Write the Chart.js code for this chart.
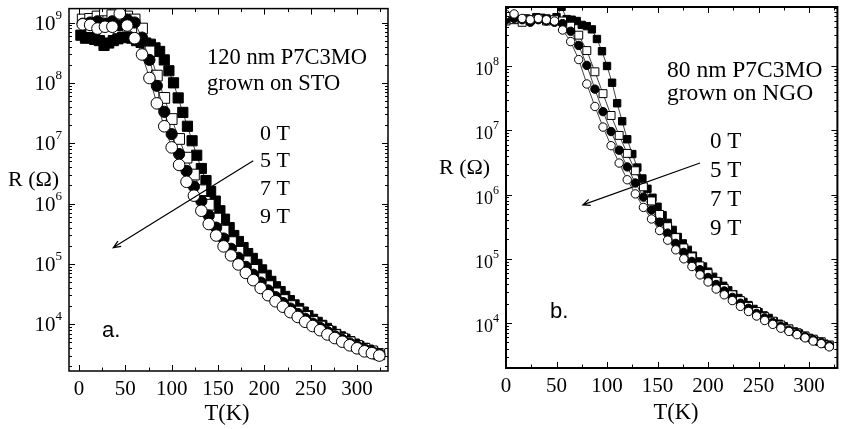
<!DOCTYPE html>
<html>
<head>
<meta charset="utf-8">
<script src="https://cdn.jsdelivr.net/npm/chart.js@4"></script>
<style>
  html, body { margin: 0; padding: 0; background: #fff; }
  #wrap { position: relative; width: 844px; height: 429px; }
  #wrap canvas { position: absolute; left: 0; top: 0; }
</style>
</head>
<body>
<div id="wrap">
  <canvas id="panelA" width="844" height="429"></canvas>
  <canvas id="panelB" width="844" height="429"></canvas>
</div>
<script>
// ---- data; R values are given as log10(R / Ohm) ----

// panel a: 120 nm P7C3MO on STO
const tempA0 = [2, 7, 12, 17, 22, 27, 32, 37, 42, 47, 52, 57, 62, 67, 72, 77, 82, 87, 92, 97,
  102, 107, 112, 117, 122, 127, 132, 137, 142, 147, 152, 157, 162, 167, 172, 177, 182, 187, 192, 197,
  202, 207, 212, 217, 222, 227, 232, 237, 242, 247, 252, 257, 262, 267, 272, 277, 282, 287, 292, 297,
  302, 307, 312, 317, 322];
const logA_0T = [8.79, 8.74, 8.75, 8.72, 8.70, 8.62, 8.66, 8.70, 8.73, 8.75, 8.76, 8.74, 8.70, 8.67, 8.66, 8.64, 8.58, 8.52, 8.38, 8.20,
  8.00, 7.75, 7.51, 7.28, 7.04, 6.80, 6.58, 6.38, 6.20, 6.04, 5.88, 5.74, 5.60, 5.47, 5.37, 5.27, 5.17, 5.09, 4.99, 4.90,
  4.81, 4.71, 4.62, 4.54, 4.46, 4.39, 4.32, 4.26, 4.20, 4.14, 4.08, 4.03, 3.98, 3.93, 3.88, 3.83, 3.79, 3.75, 3.71, 3.67,
  3.63, 3.60, 3.57, 3.54, 3.51];

const tempA = [4, 12, 20, 28, 36, 44, 52, 60, 68, 76, 84, 92, 100, 108, 116, 124, 132, 140, 148, 156,
  164, 172, 180, 188, 196, 204, 212, 220, 228, 236, 244, 252, 260, 268, 276, 284, 292, 300, 308, 316, 324];
const logA_5T = [9.05, 9.06, 9.10, 9.20, 9.12, 9.02, 9.10, 9.05, 8.90, 8.52, 8.12, 7.75, 7.40, 7.07, 6.76, 6.48, 6.22, 5.98, 5.75, 5.55,
  5.36, 5.20, 5.04, 4.90, 4.76, 4.63, 4.51, 4.40, 4.30, 4.21, 4.12, 4.04, 3.96, 3.89, 3.82, 3.76, 3.70, 3.64, 3.59, 3.55, 3.50];
const logA_7T = [8.98, 9.00, 9.02, 8.98, 9.02, 8.95, 9.05, 9.00, 8.75, 8.38, 7.95, 7.52, 7.15, 6.82, 6.54, 6.28, 6.04, 5.80, 5.60, 5.42,
  5.25, 5.10, 4.95, 4.82, 4.69, 4.56, 4.45, 4.35, 4.26, 4.17, 4.09, 4.01, 3.94, 3.87, 3.80, 3.74, 3.68, 3.63, 3.58, 3.54, 3.50];
const logA_9T = [8.97, 8.96, 8.90, 8.93, 8.93, 9.15, 8.95, 8.74, 8.47, 8.08, 7.66, 7.28, 6.93, 6.64, 6.36, 6.13, 5.88, 5.66, 5.47, 5.29,
  5.14, 4.99, 4.85, 4.73, 4.60, 4.48, 4.38, 4.29, 4.20, 4.12, 4.04, 3.97, 3.90, 3.83, 3.77, 3.71, 3.65, 3.60, 3.55, 3.52, 3.48];

// panel b: 80 nm P7C3MO on NGO
const tempB0 = [0, 5, 10, 15, 20, 25, 30, 35, 40, 45, 50, 55, 60, 65, 70, 75, 80, 85, 90, 95,
  100, 105, 110, 115, 120, 125, 130, 135, 140, 145, 150, 155, 160, 165, 170, 175, 180, 185, 190, 195,
  200, 205, 210, 215, 220, 225, 230, 235, 240, 245, 250, 255, 260, 265, 270, 275, 280, 285, 290, 295,
  300, 305, 310, 315, 320];
const logB_0T = [8.74, 8.75, 8.72, 8.73, 8.74, 8.72, 8.76, 8.75, 8.74, 8.72, 8.76, 8.92, 8.73, 8.72, 8.70, 8.64, 8.62, 8.57, 8.42, 8.23,
  8.00, 7.74, 7.42, 7.14, 6.86, 6.63, 6.42, 6.25, 6.09, 5.95, 5.81, 5.68, 5.56, 5.45, 5.34, 5.24, 5.14, 5.05, 4.96, 4.88,
  4.80, 4.72, 4.65, 4.58, 4.51, 4.45, 4.39, 4.33, 4.28, 4.22, 4.17, 4.12, 4.08, 4.03, 3.99, 3.95, 3.91, 3.87, 3.84, 3.80,
  3.77, 3.74, 3.71, 3.68, 3.65];

const tempB = [0, 8, 16, 24, 32, 40, 48, 56, 64, 72, 80, 88, 96, 104, 112, 120, 128, 136, 144, 152,
  160, 168, 176, 184, 192, 200, 208, 216, 224, 232, 240, 248, 256, 264, 272, 280, 288, 296, 304, 312, 320];
const logB_5T = [8.70, 8.72, 8.68, 8.72, 8.74, 8.70, 8.72, 8.70, 8.62, 8.48, 8.24, 7.91, 7.57, 7.23, 6.92, 6.64, 6.37, 6.12, 5.90, 5.69,
  5.50, 5.33, 5.17, 5.03, 4.89, 4.77, 4.65, 4.54, 4.44, 4.35, 4.26, 4.18, 4.10, 4.03, 3.97, 3.91, 3.85, 3.80, 3.75, 3.71, 3.66];
const logB_7T = [8.72, 8.74, 8.72, 8.68, 8.72, 8.70, 8.68, 8.66, 8.54, 8.32, 8.01, 7.64, 7.29, 6.98, 6.69, 6.43, 6.18, 5.96, 5.76, 5.57,
  5.40, 5.24, 5.10, 4.96, 4.83, 4.71, 4.60, 4.50, 4.40, 4.31, 4.23, 4.15, 4.08, 4.01, 3.95, 3.89, 3.84, 3.79, 3.74, 3.70, 3.65];
const logB_9T = [8.80, 8.81, 8.74, 8.72, 8.74, 8.72, 8.70, 8.56, 8.38, 8.10, 7.72, 7.37, 7.05, 6.76, 6.49, 6.23, 6.01, 5.80, 5.62, 5.44,
  5.29, 5.14, 5.00, 4.88, 4.75, 4.64, 4.53, 4.44, 4.35, 4.26, 4.18, 4.11, 4.04, 3.98, 3.92, 3.87, 3.82, 3.77, 3.72, 3.68, 3.63];

// axis ticks / labels
const xTickLabels = [0, 50, 100, 150, 200, 250, 300];
const xMinorTicks = [25, 75, 125, 175, 225, 275, 325];
const yDecadesA = [4, 5, 6, 7, 8, 9];
const yDecadesB = [4, 5, 6, 7, 8];
const fieldLabels = ['0 T', '5 T', '7 T', '9 T'];

const SERIF = '"Liberation Serif", "Times New Roman", serif';
const SANS = '"Liberation Sans", Arial, sans-serif';

function makeSeries(temps, logs, style, filled, radius) {
  return {
    data: temps.map((t, i) => ({ x: t, y: Math.pow(10, logs[i]) })),
    showLine: true,
    borderColor: '#111',
    borderWidth: 0.8,
    tension: 0,
    fill: false,
    clip: 0,
    pointStyle: style,
    pointRadius: radius,
    pointBorderColor: '#000',
    pointBorderWidth: 1,
    pointBackgroundColor: filled ? '#000' : '#fff',
  };
}

// draws the boxed frame, inward ticks, tick labels and annotations
const paperAxesPlugin = {
  id: 'paperAxes',
  afterDraw(chart, args, o) {
    const { ctx, chartArea: a } = chart;
    const xs = chart.scales.x, ys = chart.scales.y;
    ctx.save();
    ctx.strokeStyle = '#000';
    ctx.fillStyle = '#000';

    // ticks
    ctx.lineWidth = 1;
    ctx.beginPath();
    const xTick = (v, len) => {
      const px = Math.round(xs.getPixelForValue(v)) + 0.5;
      ctx.moveTo(px, a.bottom); ctx.lineTo(px, a.bottom - len);
      ctx.moveTo(px, a.top); ctx.lineTo(px, a.top + len);
    };
    const yTick = (v, len) => {
      if (v < ys.min || v > ys.max) return;
      const py = Math.round(ys.getPixelForValue(v)) + 0.5;
      ctx.moveTo(a.left, py); ctx.lineTo(a.left + len, py);
      ctx.moveTo(a.right, py); ctx.lineTo(a.right - len, py);
    };
    xTickLabels.forEach(v => xTick(v, 6));
    xMinorTicks.forEach(v => { if (v <= xs.max) xTick(v, 3.5); });
    for (let d = 3; d <= 9; d++) {
      yTick(Math.pow(10, d), 6);
      for (let m = 2; m <= 9; m++) yTick(m * Math.pow(10, d), 3);
    }
    ctx.stroke();

    // frame
    ctx.lineWidth = o.frameWidth;
    ctx.strokeRect(a.left, a.top, a.right - a.left, a.bottom - a.top);

    // x tick labels
    ctx.font = o.xFont;
    ctx.textAlign = 'center';
    ctx.textBaseline = 'alphabetic';
    xTickLabels.forEach(v => ctx.fillText(String(v), xs.getPixelForValue(v), a.bottom + 24));

    // y tick labels 10^n
    o.decades.forEach(d => {
      const py = ys.getPixelForValue(Math.pow(10, d));
      const xr = a.left - 7;
      ctx.textAlign = 'right';
      ctx.font = o.supFont;
      const sw = ctx.measureText(String(d)).width;
      ctx.fillText(String(d), xr, py + o.supDy);
      ctx.font = o.yFont;
      ctx.fillText('10', xr - sw, py + o.mainDy);
    });

    // free text
    o.texts.forEach(t => {
      ctx.font = t.font;
      ctx.textAlign = t.align || 'left';
      ctx.fillText(t.text, t.x, t.y);
    });

    // field arrow
    const x1 = xs.getPixelForValue(o.arrow[0]), y1 = ys.getPixelForValue(o.arrow[1]);
    const x2 = xs.getPixelForValue(o.arrow[2]), y2 = ys.getPixelForValue(o.arrow[3]);
    ctx.lineWidth = 1.2;
    ctx.beginPath();
    ctx.moveTo(x1, y1); ctx.lineTo(x2, y2);
    const ang = Math.atan2(y2 - y1, x2 - x1);
    const hl = 8, hw = 0.4;
    ctx.moveTo(x2 - hl * Math.cos(ang - hw), y2 - hl * Math.sin(ang - hw));
    ctx.lineTo(x2, y2);
    ctx.lineTo(x2 - hl * Math.cos(ang + hw), y2 - hl * Math.sin(ang + hw));
    ctx.stroke();
    ctx.restore();
  }
};

function buildChart(id, datasets, padding, xr, yr, frameOpts) {
  return new Chart(document.getElementById(id), {
    type: 'line',
    data: { datasets },
    options: {
      responsive: false,
      animation: false,
      events: [],
      layout: { padding },
      scales: {
        x: { type: 'linear', display: false, min: xr[0], max: xr[1] },
        y: { type: 'logarithmic', display: false, min: yr[0], max: yr[1] },
      },
      plugins: {
        legend: { display: false },
        tooltip: { enabled: false },
        paperAxes: frameOpts,
      },
    },
    plugins: [paperAxesPlugin],
  });
}

// panel a (datasets listed top-most first)
buildChart('panelA', [
  makeSeries(tempA, logA_9T, 'circle', false, 5.8),
  makeSeries(tempA, logA_7T, 'circle', true, 5.6),
  makeSeries(tempA, logA_5T, 'rect', false, 7.6),
  makeSeries(tempA0, logA_0T, 'rect', true, 7.2),
], { left: 69, top: 7, right: 456, bottom: 58 }, [-10.8, 333.4], [1.675e3, 1.70e9], {
  frameWidth: 1.5,
  decades: yDecadesA,
  xFont: '21px ' + SERIF,
  yFont: '21px ' + SERIF,
  supFont: '13px ' + SERIF,
  mainDy: 7, supDy: -4,
  arrow: [188, 5.1e6, 37, 1.86e5],
  texts: [
    { text: '120 nm P7C3MO', x: 207, y: 64, font: '22.5px ' + SERIF },
    { text: 'grown on STO', x: 207, y: 90, font: '22.5px ' + SERIF },
    { text: fieldLabels[0], x: 260, y: 140, font: '22px ' + SERIF },
    { text: fieldLabels[1], x: 260, y: 167, font: '22px ' + SERIF },
    { text: fieldLabels[2], x: 260, y: 195, font: '22px ' + SERIF },
    { text: fieldLabels[3], x: 260, y: 223, font: '22px ' + SERIF },
    { text: 'R (\u03A9)', x: 8, y: 186, font: '22px ' + SERIF },
    { text: 'T(K)', x: 227, y: 420, font: '22.5px ' + SERIF, align: 'center' },
    { text: 'a.', x: 102, y: 337, font: '22px ' + SANS },
  ],
});

// panel b
buildChart('panelB', [
  makeSeries(tempB, logB_9T, 'circle', false, 4.2),
  makeSeries(tempB, logB_7T, 'circle', true, 4.2),
  makeSeries(tempB, logB_5T, 'rect', false, 5.6),
  makeSeries(tempB0, logB_0T, 'rect', true, 5.2),
], { left: 506, top: 7, right: 2, bottom: 61 }, [0, 328], [2.0e3, 8.28e8], {
  frameWidth: 2,
  decades: yDecadesB,
  xFont: '21px ' + SERIF,
  yFont: '18px ' + SERIF,
  supFont: '12px ' + SERIF,
  mainDy: 9, supDy: -1,
  arrow: [192, 3.1e6, 76, 6.9e5],
  texts: [
    { text: '80 nm P7C3MO', x: 667, y: 77, font: '23.5px ' + SERIF },
    { text: 'grown on NGO', x: 667, y: 100, font: '23.5px ' + SERIF },
    { text: fieldLabels[0], x: 710, y: 148, font: '23px ' + SERIF },
    { text: fieldLabels[1], x: 710, y: 177, font: '23px ' + SERIF },
    { text: fieldLabels[2], x: 710, y: 206, font: '23px ' + SERIF },
    { text: fieldLabels[3], x: 710, y: 235, font: '23px ' + SERIF },
    { text: 'R (\u03A9)', x: 439, y: 174, font: '22px ' + SERIF },
    { text: 'T(K)', x: 676, y: 419, font: '22.5px ' + SERIF, align: 'center' },
    { text: 'b.', x: 550, y: 318, font: '22px ' + SANS },
  ],
});
</script>
</body>
</html>
